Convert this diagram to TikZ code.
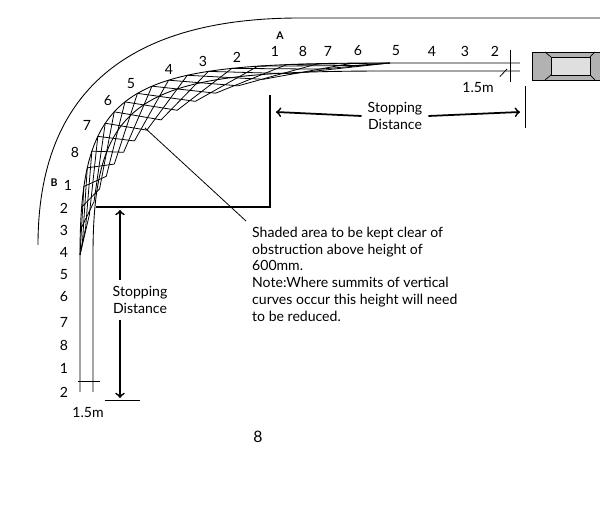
\documentclass[tikz,border=0pt]{standalone}
\usepackage{fontspec}
\setmainfont{Lato}
\begin{document}
\begin{tikzpicture}[x=0.02cm,y=-0.02cm,font=\fontsize{8}{9.5}\selectfont,
    lane/.style={line width=0.5pt},
    sight/.style={line width=0.45pt},
    wall/.style={line width=1.4pt},
    num/.style={inner sep=0pt}]
    % the frame
    \useasboundingbox (0,0) rectangle (600,506);
    % the road edge
    \draw[lane] (600,18) -- (300,18) .. controls (130,18) and (38,90) .. (38,245);
    % the two lanes
    \draw[lane] (520,63) -- (390,63) .. controls (130,63) and (80,80) .. (80,255) -- (80,392);
    \draw[lane] (520,71) -- (390,71) .. controls (145,71) and (93,90) .. (93,255) -- (93,392);
    % points along the shaded band
    \foreach \k in {0,...,20} {
        \path (390,63) .. controls (130,63) and (80,80) .. (80,255) coordinate[pos=\k/20] (O\k);
        \path (390,63) .. controls (140,76) and (95,165) .. (80,255) coordinate[pos=\k/20] (I\k);
    };
    % sight lines
    \foreach \a in {0,...,17} {
        \pgfmathtruncatemacro\b{\a+3}
        \draw[sight] (O\a) -- (I\b);
        \draw[sight] (I\a) -- (O\b);
    };
    \draw[sight] (O0) -- (I2) (I18) -- (O20) (O0) -- (I1) (I19) -- (O20);
    % labels along the road
    \foreach \t/\x in {2/495,3/465,4/432,5/396,6/358,7/328,8/303,1/275} {
        \node[num] (top\x) at (\x,51) {\t};
    };
    \foreach \t/\x/\y in {2/237/57,3/203/61,4/169/69,5/131/84,6/108/101,7/87/125,8/75/152,1/68/185} {
        \node[num] (cur\x) at (\x,\y) {\t};
    };
    \foreach \t/\y in {2/208,3/230,4/252,5/275,6/297,7/322,8/345,1/368,2/392} {
        \node[num] (side\y) at (64,\y) {\t};
    };
    \node[num,font=\fontsize{6}{6}\selectfont\bfseries] (labA) at (280,36) {A};
    \node[num,font=\fontsize{6}{6}\selectfont\bfseries] (labB) at (54,183) {B};
    % ticks
    \draw[lane] (510,50) -- (510,82);
    \draw[lane] (78,381) -- (100,381);
    \coordinate (tickR) at (507,69);
    \node (wR) at (478,88) {1.5m};
    \draw[sight] (wR.north east) -- (tickR);
    \node (wB) at (88,413) {1.5m};
    % the car
    \draw[fill=gray!60] (532,52) rectangle (600,80);
    \draw[fill=gray!25] (551,57) rectangle (590,75);
    \draw (551,57) -- (545,52) (551,75) -- (545,80) (590,57) -- (595,52) (590,75) -- (595,80);
    % the corner
    \draw[wall] (270,95) -- (270,207) -- (96,207);
    \draw[lane] (525,86) -- (525,128);
    \node[align=center] (sdR) at (395,116) {Stopping\\Distance};
    \draw[->,wall,line width=1pt] (sdR.west) -- (276,112);
    \draw[->,wall,line width=1pt] (sdR.east) -- (520,112);
    \draw[lane] (105,400) -- (140,400);
    \node[align=center] (sdB) at (140,300) {Stopping\\Distance};
    \draw[->,wall,line width=1pt] (120,280) -- (120,210);
    \draw[->,wall,line width=1pt] (120,320) -- (120,398);
    % the note
    \node[align=left,anchor=north west] (note) at (246,221) {Shaded area to be kept clear of\\obstruction above height of\\600mm.\\Note:Where summits of vertical\\curves occur this height will need\\to be reduced.};
    \coordinate (mesh) at (145,128);
    \draw[sight] (mesh) -- (note.north west);
    \node (page) at (258,437) {\fontsize{9}{9}\selectfont 8};
\end{tikzpicture}
\end{document}
